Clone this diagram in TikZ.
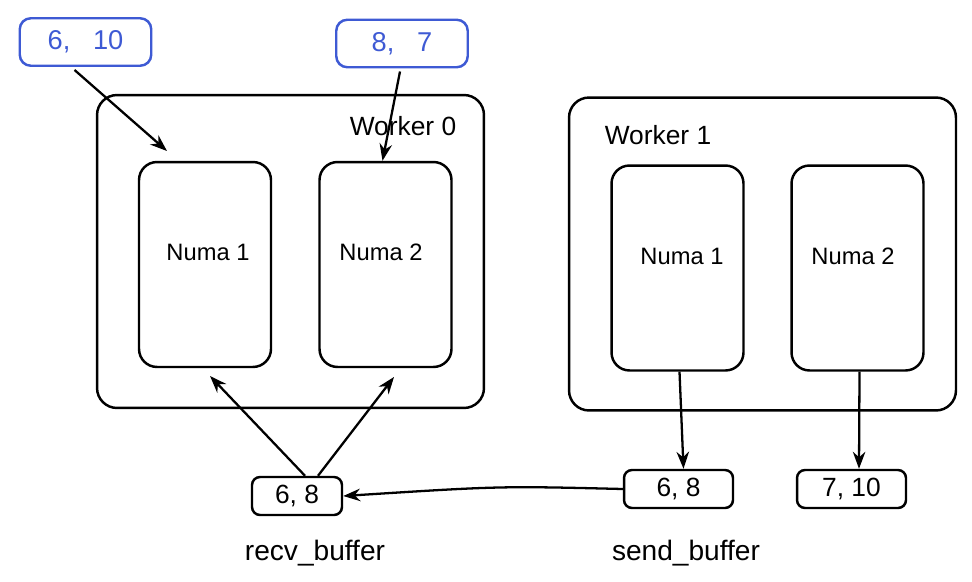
\documentclass[tikz,border=0pt]{standalone}
\usepackage{fontspec}
\setmainfont{Liberation Sans}
\usetikzlibrary{arrows.meta,positioning}

\definecolor{numblue}{RGB}{62,90,212}

\tikzset{
  box/.style={draw, line width=1.4pt, rounded corners=0.4cm},
  worker/.style={box, minimum width=7.74cm, minimum height=6.26cm},
  numa/.style={box, rounded corners=0.36cm, minimum width=2.64cm, minimum height=4.1cm},
  buf/.style={draw, line width=1.4pt, rounded corners=0.16cm, minimum height=0.76cm,
    font=\fontsize{15}{18}\selectfont},
  bluebuf/.style={buf, draw=numblue, text=numblue, rounded corners=0.22cm,
    minimum width=2.63cm, minimum height=0.95cm, font=\fontsize{15.5}{18}\selectfont},
  lbl/.style={font=\fontsize{13.5}{16}\selectfont},
  wlbl/.style={font=\fontsize{15}{18}\selectfont},
  blbl/.style={font=\fontsize{16}{19}\selectfont},
  flow/.style={-{Stealth[length=0.34cm,width=0.25cm]}, line width=1.3pt}
}

\begin{document}
\begin{tikzpicture}[x=0.02cm, y=-0.02cm]
  \useasboundingbox (0,0) rectangle (972,581);

  % worker 0
  \node[worker] (w0) at (290.5,251.5) {};
  \node[wlbl] (w0l) at (403,126) {Worker 0};
  \node[numa] (w0n1) at (205,264.5) {};
  \node[lbl] (w0n1l) at (208,252) {Numa 1};
  \node[numa] (w0n2) at (385.5,264.5) {};
  \node[lbl] (w0n2l) at (381,252) {Numa 2};

  % worker 1
  \node[worker] (w1) at (762.5,254) {};
  \node[wlbl] (w1l) at (658,135) {Worker 1};
  \node[numa] (w1n1) at (677.5,268) {};
  \node[lbl] (w1n1l) at (682,256) {Numa 1};
  \node[numa] (w1n2) at (857.5,268) {};
  \node[lbl] (w1n2l) at (853,256) {Numa 2};

  % incoming data
  \node[bluebuf] (in1) at (85.5,42) {6,\ \ \ 10};
  \node[bluebuf] (in2) at (402,43.5) {8,\ \ \ 7};

  % buffers
  \node[buf, minimum width=1.8cm] (recv) at (297,496) {6,\ 8};
  \node[blbl, below=0.36cm of recv, xshift=0.36cm] (recvl) {recv\_buffer};
  \node[buf, minimum width=2.18cm] (send) at (678.5,489) {6,\ 8};
  \node[blbl, below=0.5cm of send, xshift=0.15cm] (sendl) {send\_buffer};
  \node[buf, minimum width=2.18cm] (rest) at (851.5,489) {7,\ 10};

  \coordinate (p1) at (167,151);
  \coordinate (q1) at (210,376);
  \coordinate (q2) at (394,377);

  \draw[flow] ([xshift=-0.22cm,yshift=-0.06cm]in1.south) -- (p1);
  \draw[flow] ([xshift=-0.04cm,yshift=-0.06cm]in2.south) -- ([xshift=-0.06cm]w0n2.north);
  \draw[flow] ([xshift=0.16cm]recv.north) -- (q1);
  \draw[flow] ([xshift=0.42cm]recv.north) -- (q2);
  \draw[flow] (send.west) .. controls (500,486) .. (recv.east);
  \draw[flow] ([xshift=0.04cm]w1n1.south) -- ([xshift=0.1cm]send.north);
  \draw[flow] ([xshift=0.04cm]w1n2.south) -- ([xshift=0.15cm]rest.north);
\end{tikzpicture}
\end{document}
